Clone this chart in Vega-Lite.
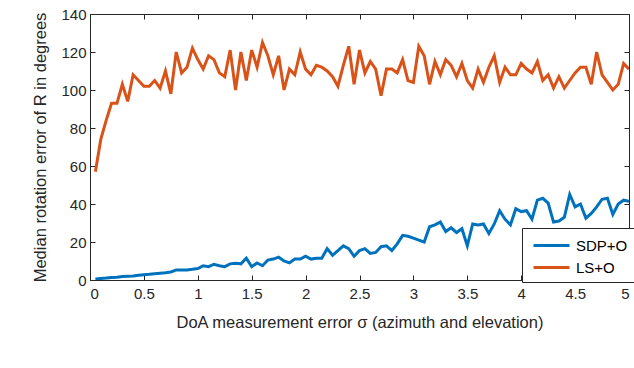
{
  "$schema": "https://vega.github.io/schema/vega-lite/v6.json",
  "width": 539,
  "height": 266,
  "autosize": {"type": "none"},
  "padding": {"left": 90, "top": 14, "right": 5, "bottom": 88},
  "background": "white",
  "config": {
    "font": "Liberation Sans",
    "view": {"stroke": "#262626", "strokeWidth": 1},
    "axis": {"grid": false, "domainColor": "#262626", "tickColor": "#262626", "labelColor": "#262626", "titleColor": "#262626", "labelFontSize": 15, "titleFontSize": 16.5, "titleFontWeight": "normal", "tickSize": -5, "labelPadding": 11}
  },
  "data": {"values": [
    {"sigma":0.05,"sdp":0.5,"ls":57},{"sigma":0.1,"sdp":0.8,"ls":74},{"sigma":0.15,"sdp":1.0,"ls":84},{"sigma":0.2,"sdp":1.3,"ls":93},{"sigma":0.25,"sdp":1.5,"ls":93},
    {"sigma":0.3,"sdp":1.8,"ls":103},{"sigma":0.35,"sdp":2.0,"ls":94},{"sigma":0.4,"sdp":2.1,"ls":108},{"sigma":0.45,"sdp":2.5,"ls":105},{"sigma":0.5,"sdp":2.8,"ls":102},
    {"sigma":0.55,"sdp":3.0,"ls":102},{"sigma":0.6,"sdp":3.3,"ls":105},{"sigma":0.65,"sdp":3.6,"ls":101},{"sigma":0.7,"sdp":3.8,"ls":110},{"sigma":0.75,"sdp":4.2,"ls":98},
    {"sigma":0.8,"sdp":5.3,"ls":120},{"sigma":0.85,"sdp":5.2,"ls":109},{"sigma":0.9,"sdp":5.3,"ls":112},{"sigma":0.95,"sdp":5.6,"ls":122},{"sigma":1.0,"sdp":6.0,"ls":116},
    {"sigma":1.05,"sdp":7.5,"ls":111},{"sigma":1.1,"sdp":7.0,"ls":118},{"sigma":1.15,"sdp":8.3,"ls":116},{"sigma":1.2,"sdp":7.5,"ls":109},{"sigma":1.25,"sdp":7.0,"ls":107},
    {"sigma":1.3,"sdp":8.5,"ls":121},{"sigma":1.35,"sdp":8.8,"ls":100},{"sigma":1.4,"sdp":8.5,"ls":120},{"sigma":1.45,"sdp":11.5,"ls":105},{"sigma":1.5,"sdp":7.0,"ls":121},
    {"sigma":1.55,"sdp":9.0,"ls":112},{"sigma":1.6,"sdp":7.5,"ls":125},{"sigma":1.65,"sdp":10.5,"ls":118},{"sigma":1.7,"sdp":11.0,"ls":108},{"sigma":1.75,"sdp":12.0,"ls":118},
    {"sigma":1.8,"sdp":10.0,"ls":100},{"sigma":1.85,"sdp":9.0,"ls":111},{"sigma":1.9,"sdp":11.0,"ls":108},{"sigma":1.95,"sdp":11.0,"ls":120},{"sigma":2.0,"sdp":12.5,"ls":111},
    {"sigma":2.05,"sdp":11.0,"ls":108},{"sigma":2.1,"sdp":11.5,"ls":113},{"sigma":2.15,"sdp":11.5,"ls":112},{"sigma":2.2,"sdp":16.5,"ls":110},{"sigma":2.25,"sdp":13.0,"ls":107},
    {"sigma":2.3,"sdp":15.5,"ls":102},{"sigma":2.35,"sdp":18.0,"ls":113},{"sigma":2.4,"sdp":16.5,"ls":123},{"sigma":2.45,"sdp":12.5,"ls":103},{"sigma":2.5,"sdp":15.5,"ls":121},
    {"sigma":2.55,"sdp":16.5,"ls":109},{"sigma":2.6,"sdp":14.0,"ls":115},{"sigma":2.65,"sdp":14.5,"ls":111},{"sigma":2.7,"sdp":17.5,"ls":97},{"sigma":2.75,"sdp":18.0,"ls":111},
    {"sigma":2.8,"sdp":15.5,"ls":111},{"sigma":2.85,"sdp":19.0,"ls":109},{"sigma":2.9,"sdp":23.5,"ls":116},{"sigma":2.95,"sdp":23.0,"ls":105},{"sigma":3.0,"sdp":22.0,"ls":104},
    {"sigma":3.05,"sdp":21.0,"ls":123},{"sigma":3.1,"sdp":20.0,"ls":118},{"sigma":3.15,"sdp":28.0,"ls":103},{"sigma":3.2,"sdp":29.0,"ls":115},{"sigma":3.25,"sdp":30.5,"ls":108},
    {"sigma":3.3,"sdp":25.5,"ls":116},{"sigma":3.35,"sdp":27.5,"ls":113},{"sigma":3.4,"sdp":25.0,"ls":107},{"sigma":3.45,"sdp":27.0,"ls":114},{"sigma":3.5,"sdp":18.0,"ls":105},
    {"sigma":3.55,"sdp":29.5,"ls":101},{"sigma":3.6,"sdp":29.0,"ls":111},{"sigma":3.65,"sdp":29.5,"ls":104},{"sigma":3.7,"sdp":24.5,"ls":112},{"sigma":3.75,"sdp":29.5,"ls":118},
    {"sigma":3.8,"sdp":36.5,"ls":104},{"sigma":3.85,"sdp":32.0,"ls":112},{"sigma":3.9,"sdp":29.0,"ls":108},{"sigma":3.95,"sdp":37.5,"ls":108},{"sigma":4.0,"sdp":36.0,"ls":114},
    {"sigma":4.05,"sdp":36.5,"ls":111},{"sigma":4.1,"sdp":32.0,"ls":109},{"sigma":4.15,"sdp":42.0,"ls":115},{"sigma":4.2,"sdp":43.0,"ls":105},{"sigma":4.25,"sdp":40.5,"ls":108},
    {"sigma":4.3,"sdp":30.5,"ls":101},{"sigma":4.35,"sdp":31.0,"ls":107},{"sigma":4.4,"sdp":33.0,"ls":101},{"sigma":4.45,"sdp":45.0,"ls":105},{"sigma":4.5,"sdp":38.5,"ls":109},
    {"sigma":4.55,"sdp":40.0,"ls":112},{"sigma":4.6,"sdp":32.5,"ls":112},{"sigma":4.65,"sdp":35.0,"ls":103},{"sigma":4.7,"sdp":38.5,"ls":120},{"sigma":4.75,"sdp":42.5,"ls":108},
    {"sigma":4.8,"sdp":43.0,"ls":104},{"sigma":4.85,"sdp":34.5,"ls":100},{"sigma":4.9,"sdp":40.0,"ls":103},{"sigma":4.95,"sdp":42.0,"ls":114},{"sigma":5.0,"sdp":41.5,"ls":111}
  ]},
  "transform": [
    {"fold": ["sdp", "ls"], "as": ["key", "error"]},
    {"calculate": "datum.key === 'sdp' ? 'SDP+O' : 'LS+O'", "as": "method"}
  ],
  "layer": [
    {
      "mark": {"type": "line", "strokeWidth": 3, "clip": true},
      "encoding": {
        "x": {"field": "sigma", "type": "quantitative", "scale": {"domain": [0, 5], "nice": false, "zero": false},
              "axis": {"orient": "bottom", "values": [0,0.5,1,1.5,2,2.5,3,3.5,4,4.5,5], "format": "~g", "title": "DoA measurement error  σ (azimuth and elevation)", "titlePadding": 13}},
        "y": {"field": "error", "type": "quantitative", "scale": {"domain": [0, 140], "nice": false},
              "axis": {"orient": "left", "values": [0,20,40,60,80,100,120,140], "title": "Median rotation error of R in degrees", "titlePadding": 12, "labelPadding": 9}},
        "color": {"field": "method", "type": "nominal", "sort": ["SDP+O", "LS+O"],
                  "scale": {"domain": ["SDP+O", "LS+O"], "range": ["#0072BD", "#D95319"]},
                  "legend": {"title": null, "orient": "none", "legendX": 432, "legendY": 214, "fillColor": "white", "strokeColor": "#262626", "padding": 6, "symbolType": "M-1.8,0L1.8,0", "symbolStrokeWidth": 3, "symbolSize": 400, "symbolOffset": 12, "labelFontSize": 15, "labelColor": "#000000", "rowPadding": 2, "labelOffset": 13}}
      }
    },
    {
      "mark": {"type": "line", "strokeWidth": 0, "opacity": 0},
      "encoding": {
        "x": {"field": "sigma", "type": "quantitative", "axis": {"orient": "top", "values": [0,0.5,1,1.5,2,2.5,3,3.5,4,4.5,5], "labels": false, "title": null}},
        "y": {"field": "error", "type": "quantitative", "axis": {"orient": "right", "values": [0,20,40,60,80,100,120,140], "labels": false, "title": null}},
        "detail": {"field": "method"}
      }
    }
  ],
  "resolve": {"axis": {"x": "independent", "y": "independent"}}
}
